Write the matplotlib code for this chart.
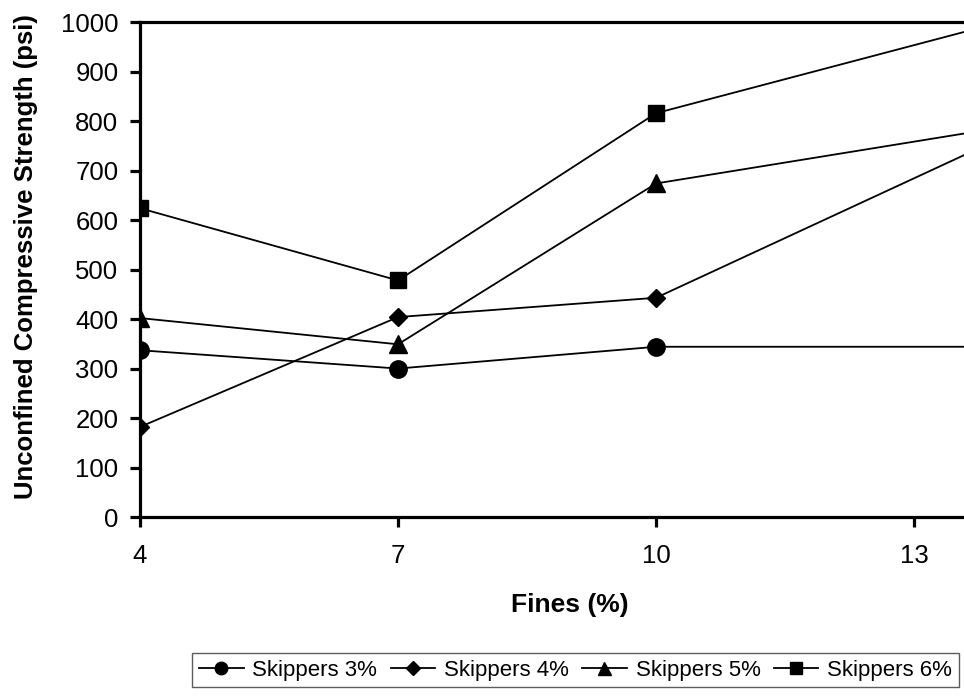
import matplotlib
matplotlib.use("Agg")
import matplotlib.pyplot as plt

plt.rcParams['font.family'] = ['Liberation Sans', 'DejaVu Sans']

# fines content (%); the last point lies beyond the cropped right edge
fines = [4, 7, 10, 16]

skippers_3 = [337, 300, 344, 344]
skippers_4 = [182, 404, 443, 926]
skippers_5 = [402, 349, 674, 843]
skippers_6 = [624, 478, 816, 1091]

series = [
    ('Skippers 3%', skippers_3, 'o', 12.5),
    ('Skippers 4%', skippers_4, 'D', 9.5),
    ('Skippers 5%', skippers_5, '^', 13),
    ('Skippers 6%', skippers_6, 's', 12),
]

fig = plt.figure(figsize=(9.64, 6.98), dpi=100, facecolor='white')
# axes run past the right edge, like the cropped original
ax = fig.add_axes([0.1452, 0.2593, 1 - 0.1452, 0.709])

for name, vals, mk, ms in series:
    ax.plot(fines, vals, color='black', lw=1.3, marker=mk, ms=ms, label=name)

ax.set_xlim(4, 13.58)
ax.set_ylim(0, 1000)
ax.set_xticks([4, 7, 10, 13])
ax.set_yticks(range(0, 1001, 100))

for side in ['left', 'bottom', 'top']:
    ax.spines[side].set_linewidth(2.3)
ax.spines['right'].set_visible(False)
ax.tick_params(axis='both', direction='out', length=7.5, width=2.3,
               labelsize=18.5)
ax.tick_params(axis='y', pad=8)
ax.tick_params(axis='x', pad=12)

ax.set_xlabel('Fines (%)', fontsize=19, fontweight='bold')
ax.xaxis.set_label_coords(0.522, -0.178)
ax.xaxis.label.set_va('center')
ax.set_ylabel('Unconfined Compressive Strength (psi)', fontsize=18.5,
              fontweight='bold')
ax.yaxis.set_label_coords(-0.138, 0.527)
ax.yaxis.label.set_va('center')

leg = fig.legend(loc='center', bbox_to_anchor=(0.597, 0.0401), ncol=4,
                 fontsize=16, frameon=True, fancybox=False,
                 handlelength=2.0, handletextpad=0.4, columnspacing=0.6,
                 borderpad=0.3, borderaxespad=0, markerscale=0.72)
leg.get_frame().set_edgecolor('#333333')
leg.get_frame().set_linewidth(1.0)

plt.savefig('out.png', dpi=100)
